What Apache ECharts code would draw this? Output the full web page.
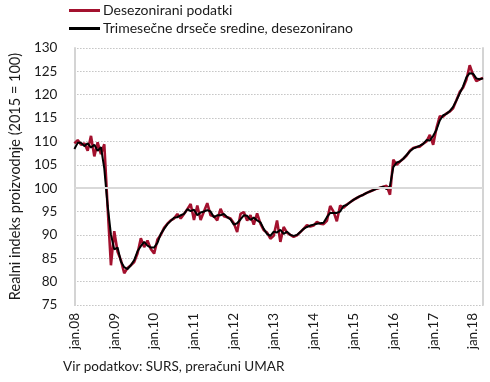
<!DOCTYPE html>
<html><head><meta charset="utf-8">
<script src="https://cdn.jsdelivr.net/npm/echarts@6/dist/echarts.min.js"></script>
<style>html,body{margin:0;padding:0;background:#fff}#c{width:490px;height:382px}</style>
</head><body><div id="c"></div>
<script>
const monthNames = ['jan','feb','mar','apr','maj','jun','jul','avg','sep','okt','nov','dec'];
const years = ['08','09','10','11','12','13','14','15','16','17','18'];
const nMonths = 124; // jan.08 – apr.18
const yTicks = [75,130,5];
const seriesNames = ['Desezonirani podatki','Trimesečne drseče sredine, desezonirano'];

const seasAdj = [
109.6,110.3,109.3,109.6,108.0,111.2,106.8,109.8,107.3,109.4,96.0,83.5,
90.8,86.4,84.6,81.8,82.9,83.5,84.2,86.0,89.3,87.4,88.8,87.0,
86.0,89.0,90.0,91.5,92.4,93.1,93.5,94.5,93.5,94.5,95.5,96.6,
93.2,96.3,93.2,95.0,96.8,94.2,94.0,93.1,95.6,94.0,93.8,93.5,
92.5,90.6,94.5,94.9,93.1,94.2,92.2,94.6,92.4,91.0,90.5,89.2,
89.8,93.1,88.5,91.7,90.5,90.0,89.6,89.9,90.6,91.3,92.1,91.8,
92.0,92.8,92.4,92.3,93.0,96.2,95.0,92.9,96.3,95.8,96.5,97.0,
97.5,97.9,98.3,98.6,99.0,99.3,99.6,99.9,100.1,100.3,100.5,98.6,
106.1,105.0,105.7,106.3,107.0,108.0,108.6,108.8,108.9,109.5,110.0,111.4,
109.3,112.9,115.4,115.3,116.0,116.4,117.1,118.8,120.6,121.5,123.2,126.3,
124.3,122.9,123.3,123.6
];
const movAvg = [
108.4,109.7,109.7,109.0,109.6,108.7,109.3,108.0,108.8,104.2,96.3,90.1,
86.9,87.3,84.3,83.1,82.7,83.5,84.6,86.5,87.6,88.5,87.7,87.3,
87.3,88.3,90.2,91.3,92.3,93.0,93.7,93.8,94.2,94.5,95.5,95.1,
95.4,94.2,94.8,95.0,95.3,95.0,93.8,94.2,94.2,94.5,93.8,93.3,
92.2,92.5,93.3,94.2,94.1,93.2,93.7,93.1,92.7,91.3,90.2,89.8,
90.7,90.5,91.1,90.2,90.7,90.0,89.8,90.0,90.6,91.3,91.7,92.0,
92.2,92.4,92.5,92.6,93.8,94.7,94.7,94.7,95.0,96.2,96.4,97.0,
97.5,97.9,98.3,98.6,99.0,99.3,99.6,99.9,100.1,100.3,99.8,100.5,
104.5,105.5,105.7,106.3,107.1,107.9,108.5,108.8,109.1,109.5,110.3,110.2,
111.2,112.5,114.5,115.6,115.9,116.5,117.4,118.8,120.3,121.8,123.7,124.6,
124.5,123.5,123.3,123.5
];

const categories = [];
for (let i = 0; i < nMonths; i++) {
  categories.push(monthNames[i % 12] + '.' + years[Math.floor(i / 12)]);
}

const FONT = 'Lato';
const TXT = '#1a1a1a';
const RED = '#a3112e';
const chart = echarts.init(document.getElementById('c'), null, {renderer:'canvas'});
chart.setOption({
  animation:false,
  textStyle:{fontFamily:FONT},
  grid:{left:69, right:7, top:48, bottom:77, containLabel:false},
  legend:{
    orient:'vertical', left:69, top:2, itemWidth:31, itemHeight:3, itemGap:1,
    icon:'rect', padding:[0,5,0,0],
    textStyle:{fontFamily:FONT, fontSize:14, color:TXT, padding:[0,0,0,-2], lineHeight:17},
    data:[{name:seriesNames[0], itemStyle:{color:RED}}, {name:seriesNames[1], itemStyle:{color:'#000'}}]
  },
  xAxis:{
    type:'category', data:categories, boundaryGap:false,
    axisLine:{show:false}, axisTick:{show:false},
    axisLabel:{rotate:90, interval:(i)=>i%12===0, fontFamily:FONT, fontSize:13.5, color:TXT, margin:8},
    splitLine:{show:false}
  },
  yAxis:[{
    type:'value', min:yTicks[0], max:yTicks[1], interval:yTicks[2],
    name:'Realni indeks proizvodnje (2015 = 100)', nameLocation:'middle', nameGap:51,
    nameTextStyle:{fontFamily:FONT, fontSize:14.5, color:TXT},
    axisLine:{show:true, lineStyle:{color:'#d4d4d4', width:2}},
    axisTick:{show:false},
    axisLabel:{fontFamily:FONT, fontSize:13.5, color:TXT, margin:17},
    splitLine:{show:true, lineStyle:{color:'#a6a6a6', type:[1,2], width:1}}
  },{
    type:'value', min:yTicks[0], max:yTicks[1], interval:yTicks[2], position:'right',
    axisLine:{show:true, lineStyle:{color:'#d4d4d4', width:2}},
    axisTick:{show:false}, axisLabel:{show:false}, splitLine:{show:false}
  }],
  series:[{
    name:seriesNames[0], type:'line', data:seasAdj, symbol:'none', smooth:false,
    lineStyle:{color:RED, width:2.6}, itemStyle:{color:RED},
    markLine:{silent:true, symbol:'none', label:{show:false},
      lineStyle:{color:'#d9d9d9', type:'solid', width:2}, data:[{yAxis:100}]},
    z:2
  },{
    name:seriesNames[1], type:'line', data:movAvg, symbol:'none', smooth:false,
    lineStyle:{color:'#000000', width:2}, itemStyle:{color:'#000000'}, z:3
  }],
  graphic:[{
    type:'text', left:63, top:360,
    style:{text:'Vir podatkov: SURS, preračuni UMAR', font:'13.5px '+FONT, fill:TXT}
  }]
});
</script></body></html>
